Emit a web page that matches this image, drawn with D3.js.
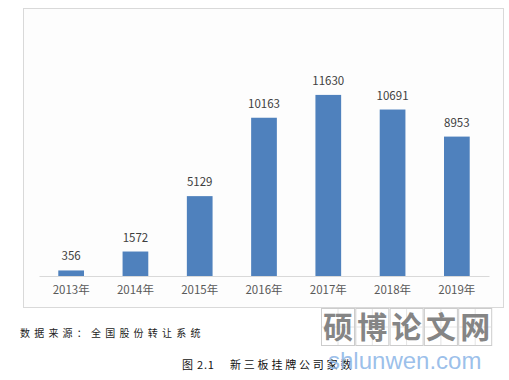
<!doctype html>
<html>
<head>
<meta charset="UTF-8">
<title>新三板挂牌公司家数</title>
<script src="https://cdn.jsdelivr.net/npm/d3@7"></script>
<style>
	body { margin: 0; background: #fff; }
	svg { display: block; }
</style>
</head>
<body>
<svg id="chart" width="509" height="380"></svg>
<script>
	// data
	const years = ['2013年', '2014年', '2015年', '2016年', '2017年', '2018年', '2019年'];
	const counts = [356, 1572, 5129, 10163, 11630, 10691, 8953];
	const sourceNote = '数据来源：全国股份转让系统';
	const figNo = '图 2.1';
	const figTitle = '新三板挂牌公司家数';
	const markChars = ['硕', '博', '论', '文', '网'];

	const svg = d3.select('#chart');
	const cjk = '"Noto Sans CJK SC", "Microsoft YaHei", sans-serif';

	// frame
	svg.append('rect')
		.attr('x', 23.5).attr('y', 8.5)
		.attr('width', 480).attr('height', 299)
		.attr('fill', '#fdfdfd')
		.attr('stroke', '#d9d9d9');

	let x = d3.scaleBand()
		.domain(years)
		.range([39, 489])
		.paddingInner(0.6)
		.paddingOuter(0.3);

	let y = d3.scaleLinear()
		.domain([0, 14000])
		.range([276, 58]);

	svg.selectAll('rect.bar')
		.data(counts)
		.enter().append('rect')
		.attr('class', 'bar')
		.attr('x', (d, i) => x(years[i]))
		.attr('y', d => y(d))
		.attr('width', x.bandwidth())
		.attr('height', d => y(0) - y(d))
		.attr('fill', '#4f81bd');

	svg.selectAll('text.val')
		.data(counts)
		.enter().append('text')
		.attr('class', 'val')
		.attr('x', (d, i) => x(years[i]) + x.bandwidth() / 2)
		.attr('y', d => y(d) - 10)
		.attr('text-anchor', 'middle')
		.attr('font-family', cjk)
		.attr('font-size', 11.5)
		.attr('fill', '#404040')
		.text(d => d);

	// x axis
	let xAxis = svg.append('g')
		.attr('transform', 'translate(0,276)')
		.call(d3.axisBottom(x).tickSize(0).tickPadding(10));
	xAxis.select('.domain').attr('stroke', '#d9d9d9');
	xAxis.selectAll('text')
		.attr('font-family', cjk)
		.attr('font-size', 11.5)
		.attr('fill', '#595959');

	// notes under the chart
	svg.append('text')
		.attr('x', 20).attr('y', 337)
		.attr('font-family', cjk)
		.attr('font-size', 10)
		.attr('letter-spacing', 4.2)
		.attr('fill', '#222')
		.text(sourceNote);

	svg.append('text')
		.attr('x', 182).attr('y', 369)
		.attr('font-family', cjk)
		.attr('font-size', 11)
		.attr('letter-spacing', 0.8)
		.attr('fill', '#111')
		.text(figNo);

	svg.append('text')
		.attr('x', 230).attr('y', 369)
		.attr('font-family', cjk)
		.attr('font-size', 11)
		.attr('letter-spacing', 2.8)
		.attr('fill', '#111')
		.text(figTitle);

	// watermark
	let mark = svg.append('g');
	markChars.forEach(function(c, i){
		let bx = 321 + i * 34.3;
		mark.append('rect')
			.attr('x', bx + 0.5).attr('y', 308.5)
			.attr('width', 33).attr('height', 37)
			.attr('fill', '#fff')
			.attr('stroke', '#ccc');
		mark.append('line')
			.attr('x1', bx + 17).attr('x2', bx + 17)
			.attr('y1', 309).attr('y2', 345)
			.attr('stroke', '#e4e4e4');
		mark.append('line')
			.attr('x1', bx + 1).attr('x2', bx + 33)
			.attr('y1', 327).attr('y2', 327)
			.attr('stroke', '#e4e4e4');
		mark.append('text')
			.attr('x', bx + 17).attr('y', 338)
			.attr('text-anchor', 'middle')
			.attr('font-family', cjk)
			.attr('font-weight', 'bold')
			.attr('font-size', 30)
			.attr('fill', '#858585')
			.text(c);
	});
	mark.append('text')
		.attr('x', 328).attr('y', 369)
		.attr('font-family', 'Arial, "Liberation Sans", sans-serif')
		.attr('font-size', 24)
		.attr('fill', '#8fb8e8')
		.attr('fill-opacity', 0.9)
		.text('shlunwen.com');
</script>
</body>
</html>
